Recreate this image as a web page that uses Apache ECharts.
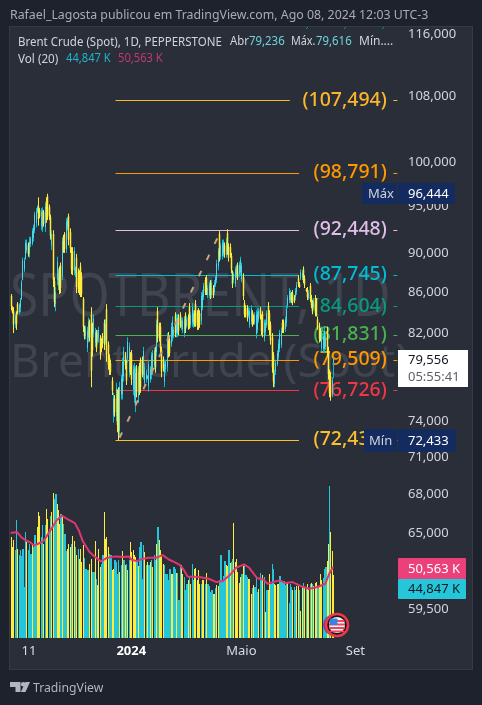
<!DOCTYPE html>
<html>
<head>
<meta charset="utf-8">
<style>html,body{margin:0;padding:0;background:#1e222d}#c{width:482px;height:705px}</style>
<script src="https://cdn.jsdelivr.net/npm/echarts@6/dist/echarts.min.js"></script>
</head>
<body>
<div id="c"></div>
<script>
const opens=[85.6,84.5,84.0,82.9,83.9,84.8,84.0,84.5,85.3,87.2,88.3,89.4,90.3,90.8,89.9,90.9,91.0,91.6,92.4,93.2,94.4,95.0,94.6,92.8,92.6,94.4,92.7,95.6,96.1,94.9,93.8,90.8,92.0,87.1,84.8,87.2,86.6,88.2,88.7,87.6,91.7,92.0,90.4,92.8,93.9,92.2,90.3,90.2,88.2,87.9,89.5,88.0,88.0,88.6,87.6,85.3,82.5,81.7,
80.6,81.5,82.9,83.8,82.6,82.0,81.1,82.0,81.2,81.5,81.5,81.2,81.7,83.0,81.3,84.3,80.9,79.7,79.2,77.6,74.5,76.0,74.5,76.4,76.6,73.2,76.3,76.4,78.0,79.9,79.2,79.6,78.3,79.9,80.1,76.8,76.1,75.4,78.7,76.1,78.9,79.4,79.5,78.1,77.4,77.7,77.8,77.1,77.7,78.1,78.5,79.0,80.4,80.2,84.1,82.7,82.6,80.4,79.5,77.5,78.6,78.8,81.8,81.3,81.0,81.6,81.8,83.7,82.0,
82.0,83.5,83.7,82.6,82.4,82.0,83.7,82.7,83.5,84.5,82.8,83.0,82.8,83.9,84.8,83.9,84.1,83.9,83.2,84.5,85.5,87.2,87.4,85.7,85.7,86.9,85.7,86.4,86.0,86.7,87.2,88.6,92.0,89.6,89.7,90.0,90.8,89.8,92.1,90.7,90.6,89.7,87.9,87.2,86.8,87.7,88.7,87.8,88.0,87.3,87.5,84.9,84.4,84.4,83.7,82.8,83.1,84.0,83.5,83.0,81.9,82.3,83.3,84.2,83.5,83.8,81.5,82.1,82.8,84.6,83.9,82.8,81.6,79.9,77.3,78.4,79.1,79.8,80.5,80.9,83.0,83.0,82.4,83.0,84.7,85.2,85.2,85.7,85.9,85.5,85.5,86.0,87.4,86.8,87.4,87.5,88.3,87.4,86.3,86.2,85.4,86.6,85.4,84.9,84.5,85.4,85.1,83.3,82.7,82.2,80.6,80.5,80.5,80.7,82.2,80.3,78.2,78.0,76.4,79.236];
const closes=[84.6,84.0,82.8,83.6,82.9,84.0,84.7,85.2,87.0,89.2,89.2,91.1,91.0,89.9,91.2,91.5,92.3,92.7,94.1,94.4,94.9,93.6,93.9,94.4,94.5,93.1,95.0,93.8,94.0,93.8,91.8,92.0,87.2,85.0,86.0,89.1,87.9,86.2,86.4,91.2,90.3,90.4,93.3,93.5,91.4,90.5,88.3,88.2,90.2,88.4,86.5,86.3,86.2,86.0,85.8,82.6,81.7,82.4,
82.2,83.1,81.6,78.5,80.4,83.4,82.1,80.6,82.0,82.3,80.0,80.5,81.0,81.0,82.9,80.0,79.0,78.5,78.4,76.7,76.0,74.8,76.9,73.7,73.0,77.0,77.8,79.3,80.3,79.0,77.6,81.2,80.7,78.5,77.7,78.6,78.8,78.3,76.6,78.4,76.8,77.0,78.2,80.3,78.8,78.3,78.0,79.1,78.6,79.9,80.1,80.3,78.8,82.9,81.6,81.5,80.6,78.4,78.7,79.1,79.3,81.6,80.1,80.1,82.6,83.2,82.3,82.0,83.4,
83.4,82.2,82.8,83.2,83.2,83.3,82.4,83.3,82.6,82.8,83.7,84.5,83.9,82.9,83.0,82.7,82.7,82.8,85.6,85.9,86.6,86.0,86.1,86.4,86.7,85.6,86.9,85.7,86.9,87.5,88.9,90.2,89.5,90.8,91.0,91.1,89.8,91.2,90.2,89.5,89.8,88.3,86.8,87.8,88.3,88.5,87.5,88.8,89.3,88.7,85.6,83.8,83.7,83.4,84.2,84.1,84.4,82.9,83.0,83.7,83.8,84.0,84.1,83.5,82.2,82.0,83.0,83.0,83.9,82.7,82.2,81.3,78.8,77.5,78.3,79.2,80.1,81.0,82.0,82.2,82.3,82.3,83.3,84.3,85.4,86.1,85.9,85.1,85.0,85.1,86.1,86.7,86.8,86.5,88.0,87.9,87.2,86.7,86.1,85.5,85.9,85.3,84.7,84.1,85.1,83.9,84.0,82.6,81.5,81.5,82.2,81.7,82.2,81.6,80.2,78.2,76.5,76.2,77.6,79.556];
const lows=[84.2,83.9,82.0,82.5,82.3,83.8,83.8,84.0,85.2,87.2,88.0,89.3,90.0,89.6,89.5,90.6,90.8,91.2,92.1,92.7,94.3,92.9,93.7,92.4,92.2,92.8,92.2,93.2,93.5,93.5,91.4,90.3,86.5,84.5,84.1,86.7,86.2,85.8,85.9,87.2,90.0,90.0,90.0,92.4,90.8,90.0,87.8,87.7,87.7,87.5,85.9,85.9,85.7,85.5,85.5,82.1,81.4,81.4,
80.2,81.1,81.2,77.0,79.8,81.6,80.7,80.2,80.9,81.1,79.5,80.2,80.6,80.4,80.9,79.3,78.6,78.1,78.1,76.3,73.9,74.4,74.0,73.1,72.4,72.7,75.9,75.9,77.5,78.6,77.2,79.2,77.9,78.1,77.2,76.3,75.6,74.8,76.1,75.6,76.3,76.5,77.9,77.7,77.0,77.4,77.7,76.6,77.4,77.7,78.1,78.6,78.3,79.8,81.1,81.2,80.1,77.9,78.4,77.0,78.3,78.4,79.7,79.8,80.7,81.2,81.5,81.6,81.6,
81.6,81.8,82.5,82.3,82.0,81.6,82.0,82.5,82.3,82.4,82.5,82.6,82.5,82.6,82.6,82.3,82.3,82.5,82.8,84.2,85.2,85.7,85.7,85.4,85.4,85.3,85.4,85.4,85.7,86.5,86.9,88.2,89.1,89.3,89.3,89.6,89.5,89.5,89.8,89.1,89.5,87.9,86.4,86.9,86.5,87.4,87.2,87.5,87.7,87.0,85.2,83.5,83.5,83.1,83.5,82.5,82.8,82.6,82.8,82.8,81.5,82.0,83.0,83.3,81.8,81.6,81.2,81.8,82.5,82.3,81.8,80.9,78.3,77.0,77.0,78.1,78.9,79.5,80.2,80.6,82.0,82.0,82.1,82.6,84.4,84.9,84.9,84.9,84.7,84.9,85.2,85.7,86.5,86.4,87.2,87.2,86.9,86.4,86.0,85.2,85.2,85.0,84.4,83.8,84.2,83.6,83.6,82.3,81.1,81.2,80.2,80.2,80.1,80.4,79.8,77.7,76.1,75.8,76.1,77.8];
const highs=[85.8,84.6,84.5,83.8,84.1,85.0,84.9,85.4,87.2,89.5,89.5,91.4,91.4,91.1,91.7,91.7,92.6,93.0,94.4,94.8,95.1,96.0,94.8,94.8,94.9,94.6,95.4,96.0,96.4,95.2,94.1,92.4,92.4,87.5,86.5,89.6,88.4,88.6,89.0,91.6,91.9,92.2,93.7,93.8,94.2,92.6,90.6,90.6,90.6,88.6,89.9,88.4,88.2,89.0,88.0,85.5,82.7,82.7,
82.6,83.5,83.3,84.5,83.0,83.8,82.5,82.3,82.3,82.6,81.8,81.5,82.0,83.3,83.3,84.8,81.2,80.0,79.5,77.9,76.5,76.3,77.4,76.8,77.0,77.5,78.1,79.7,80.7,80.2,79.5,81.6,81.1,80.2,80.4,79.0,79.2,78.9,79.0,78.9,79.2,79.7,79.8,80.7,79.2,78.6,78.1,79.5,78.9,80.2,80.4,80.6,80.7,83.3,84.5,83.0,83.0,80.7,79.8,79.5,79.5,82.0,82.1,81.6,83.0,83.6,82.6,84.0,83.8,
83.8,83.8,84.0,83.5,83.5,83.6,84.0,83.6,83.8,84.9,84.0,84.9,84.2,84.2,85.2,84.2,84.4,84.2,86.0,86.2,86.9,87.5,87.7,86.7,87.0,87.2,87.2,86.7,87.2,87.7,89.3,90.5,92.3,91.1,91.4,91.4,91.1,91.6,92.5,91.0,91.0,90.0,88.2,88.0,88.6,88.8,89.0,89.1,89.6,89.0,87.9,85.2,84.7,84.7,84.5,84.4,84.7,84.2,83.8,84.0,84.2,84.4,84.4,84.5,83.8,84.1,83.3,83.3,84.2,85.0,84.2,83.1,82.0,80.2,78.6,79.5,80.4,81.4,82.3,82.5,83.3,83.3,83.6,84.7,85.7,86.4,86.2,86.0,86.2,85.7,86.4,87.0,87.7,87.0,88.3,88.2,88.6,87.7,86.4,86.5,86.2,86.9,85.7,85.2,85.4,85.7,85.4,83.6,83.0,82.5,82.6,82.0,82.6,82.0,82.6,80.7,78.6,78.4,77.9,79.616];
const volumes=[71.8,64.7,69.9,62.3,84.1,63.5,58.8,62.3,58.1,63.5,36.3,75.4,68.7,62.3,67.1,59.5,67.1,64.7,73,65.9,78.9,89.6,87.2,71.8,80.1,67.1,80.8,91.5,84.8,77.7,87.2,89.6,103.3,99,102.6,95.5,90.8,81.3,88.4,87.2,81.3,74.2,61.6,63.5,67.1,64.7,66.6,72.5,69.4,64.7,58.8,63.5,56.4,63.5,54,65.9,57.1,49.3,48.6,48.6,52.9,55.9,46.9,46.9,69.4,42.2,37.4,63.5,50.5,52.9,58.8,90,70.6,71.8,64.7,59.5,58.8,48.1,49.3,55.2,54,45.7,55.2,46.9,51.7,61.9,55.2,51.7,52.9,48.6,55.2,68.7,61.1,62.3,58.8,57.6,55.2,51,64.7,68.3,42.2,65.9,61.1,51.7,54,51.7,54,55.2,50.5,58.8,55.2,66.6,78.9,69.9,62.3,58.8,52.9,51.7,45.3,45.7,41,49.3,45.7,45.7,
50.5,49.3,46.2,46.2,26.8,50.5,51.7,45.7,43.4,33.9,38.6,41,43.4,38.6,52.4,41,49.3,50,41,48.1,38.6,38.6,41,41,38.6,46.5,38.6,37,32.7,33.9,31.5,31,35.8,37.4,36.7,41,58.8,41,43.8,54.5,51.7,51,63,53.3,54,56.4,82.2,54,56.4,46.9,39.3,43.4,45.3,51,52.4,44.6,43.4,42.2,42.2,31,35.8,37.4,36.3,44.1,32.7,35.1,46.5,42.2,44.6,43.4,18.5,34.4,33.9,45.7,38.6,52.9,49.3,38.6,37.4,38.6,38.2,43.8,41,40.3,40.5,37.4,38.2,39.8,25.1,38.6,36.3,33.9,36.3,33.9,36.7,36.7,33.9,19.2,36.7,39.3,36.3,35.8,38.2,33.9,38.6,39.1,38.2,36.7,39.1,39.8,36.7,36.3,45.3,41,42.9,49.3,50.5,54.5,67.1,108.5,75.4,61.9,44.847];
const volumeSides="yyyccyccccccyccc"+"yccc"+"yyyccycyyccyyccyyycyccc"+"yyycyycycyyyyccccyycc"+"ycyyyccyyyyccy"+"yccccycycycyc"+"yyyyycyccccy"+"cycycyccycyyyyccccc"+"yyccyccc"+
"yyccc"+"ycyccyyyyycyycyccccyycyyccccc"+"yycyccyyyyyycycccyyycycccyccyc"+"ycyyccc"+"yyyycccccc"+"ycccyccyycyycyc"+"yycycyyycyyycccyycyyyyycc";
const maIndex=[0,5,8,11,15,18,21,25,27,31,35,39,43,49,52,55,60,64,69,73,80,86,90,92,96,101,105,111,116,121,125,129,132,135,144,151,157,162,167,172,178,182,188,193,196,205,210,215,222,228,234,240,243,246];
const maValues=[74.7,75.4,71.8,69.9,68,65.9,67.1,69,71.8,77.7,83.7,87.2,84.8,81.8,76.6,69,61.4,58.1,54.5,56.9,58.1,57.6,58.1,55.9,54.7,56.4,57.1,57.1,59,55.7,54,52.1,48.6,43.8,43.4,42.2,39.8,40.5,44.6,50,52.4,50,42.7,41.5,38.6,41,39.1,39.8,36.7,35.1,36.3,38.6,45.7,50.563];
const fibValues=[107.494,98.791,92.448,87.745,84.604,81.831,79.509,76.726,72.433];
const fibTexts=["(107,494)","(98,791)","(92,448)","(87,745)","(84,604)","(81,831)","(79,509)","(76,726)","(72,433)"];
const fibColors=["#fbb62c","#ff9800","#e1bee7","#00bcd4","#089981","#4caf50","#ff9800","#f23645","#fbc02d"];
const priceTicks=[116,108,100,95,90,86,82,74,71,68,65,59.5];
const timeTickIndex=[14,92,176,263];
const timeTickLabels=["11","2024","Maio","Set"];
const trendFrom=[83,72.6];
const trendTo=[160,92.2];

const FONT='"Noto Sans"';
const BAR_SLOTS=296;
const categories=[];for(let i=0;i<BAR_SLOTS;i++)categories.push(String(i));
const fmt=v=>v.toFixed(3).replace('.',',');
const YEL='#ffeb3b',CY='#00bcd4',CYL='#4ed6e8',VCY='#26c6da';

function txt(text,x,y,fill,size,o){o=o||{};return{type:'text',x:x,y:y,z:o.z==null?100:o.z,scaleX:o.sx||1,silent:true,
 style:{text:text,fill:fill,font:(o.w||'normal')+' '+size+'px '+FONT,align:o.a||'left',verticalAlign:'middle'}};}
function rect(x,y,w,h,fill,z,r){return{type:'rect',z:z==null?100:z,silent:true,shape:{x:x,y:y,width:w,height:h,r:r||0},style:{fill:fill}};}
function circ(cx,cy,r,fill,stroke,lw){return{type:'circle',z:100,silent:true,shape:{cx:cx,cy:cy,r:r},style:{fill:fill,stroke:stroke||null,lineWidth:lw||0}};}

const chrome=[
 rect(9,26,464,644,'#363a45',-3),
 rect(10,27,462,642,'#2a2e39',-2),
 txt("SPOTBRENT, 1D",10,299,'#40444f',60,{z:-1,sx:.86}),
 txt("Brent Crude (Spot)",10,364,'#40444f',46,{z:-1}),
 txt("Rafael_Lagosta publicou em TradingView.com, Ago 08, 2024 12:03 UTC-3",10,15,'#a9acb6',12.7,{sx:.973}),
 txt("Brent Crude (Spot), 1D, PEPPERSTONE",18,42,'#d1d4dc',12.3,{sx:.935}),
 txt("Abr",230,42,'#d1d4dc',12,{sx:.95}),txt("79,236",249,42,'#6fd3dc',12,{sx:.95}),
 txt("Máx.",291,42,'#d1d4dc',12,{sx:.9}),txt("79,616",316,42,'#6fd3dc',12,{sx:.95}),
 txt("Mín....",359,42,'#d1d4dc',12),
 txt("Vol (20)",18,59,'#d1d4dc',12.3,{sx:.95}),txt("44,847 K",66,59,'#1fb5cb',12,{sx:.93}),txt("50,563 K",118,59,'#c2386f',12,{sx:.93}),
 rect(362,183,35,21,'#132b5e',100,2),rect(398,183,57,21,'#132b5e',100,2),
 txt("Máx",368,194,'#d1d4dc',13),txt("96,444",408,194,'#ffffff',13),
 rect(364,429,33,23,'#132b5e',100,2),rect(398,429,58,23,'#132b5e',100,2),
 txt("Mín",369,441,'#d1d4dc',13),txt("72,433",408,441,'#ffffff',13),
 rect(398,350,70,37,'#ffffff'),
 txt("79,556",408,360,'#131722',13),txt("05:55:41",408,377,'#5d606b',13),
 rect(398,558,68,21,'#ec407a',100,1),rect(398,579,68,20,'#26c6da',100,1),
 txt("50,563 K",408,569,'#ffffff',13),txt("44,847 K",408,589,'#131722',13),
 circ(333.5,625,10.5,'#7b3fa0'),circ(337,625,11,'#131722','#f23645',2.5),
 circ(337,625,8,'#f4f4f4'),
 rect(329.5,620,15,2,'#f0485a'),rect(329,623.5,16,2,'#f0485a'),rect(329,627,16,2,'#f0485a'),rect(330,630.5,14,1.8,'#f0485a'),
 rect(330,618.5,7.5,6.5,'#3b82e8'),
 {type:'line',z:5,silent:true,shape:{x1:306,y1:29,x2:308,y2:27},style:{stroke:'#089981',lineWidth:1}},
 {type:'line',z:5,silent:true,shape:{x1:344,y1:29,x2:346,y2:27},style:{stroke:'#089981',lineWidth:1}},
 {type:'line',z:5,silent:true,shape:{x1:382,y1:29,x2:384,y2:27},style:{stroke:'#089981',lineWidth:1}},
 {type:'polygon',z:100,silent:true,shape:{points:[[10,682],[20.5,682],[20.5,692],[15.5,692],[15.5,687],[10,687]]},style:{fill:'#b2b5be'}},
 circ(23.2,684.3,2.3,'#b2b5be'),
 {type:'polygon',z:100,silent:true,shape:{points:[[25.5,682],[30,682],[25.5,692],[20.8,692]]},style:{fill:'#b2b5be'}},
 txt("TradingView",33,688,'#b2b5be',13,{sx:.94})
];

const fibLabelSeries=fibValues.map((v,i)=>({
 type:'scatter',xAxisIndex:0,yAxisIndex:0,z:1,symbolSize:0,silent:true,itemStyle:{opacity:1},
 data:[[287,v]],
 label:{show:true,position:'left',distance:0,opacity:1,formatter:fibTexts[i],color:fibColors[i],fontFamily:FONT,fontSize:19.5,fontWeight:500}
}));
const fibLineRows=[];
fibValues.forEach((v,i)=>{fibLineRows.push([80,i===0?213:220,v,i]);fibLineRows.push([292,295,v,i]);});

const candleRows=opens.map((o,i)=>[i,o,closes[i],lows[i],highs[i]]);
const volumeRows=volumes.map((v,i)=>[i,v,volumeSides[i]==='y'?1:0]);

const chart=echarts.init(document.getElementById('c'),null,{renderer:'canvas'});
chart.setOption({
 animation:false,backgroundColor:'#1e222d',graphic:{elements:chrome},
 grid:{left:10,right:84,top:26,height:612},
 xAxis:{type:'category',data:categories,boundaryGap:true,axisLine:{show:false},axisTick:{show:false},splitLine:{show:false},
  axisLabel:{margin:7,color:'#d9dbe2',fontFamily:FONT,fontSize:13,
   interval:(i)=>timeTickIndex.indexOf(i)>=0,
   formatter:(v)=>{const k=timeTickIndex.indexOf(+v);const t=timeTickLabels[k];return t==='2024'?'{b|2024}':(t||'');},
   rich:{b:{fontWeight:'bold',color:'#ffffff',fontFamily:FONT,fontSize:13}}}},
 yAxis:[
  {type:'log',logBase:Math.E,position:'right',min:57.538,max:117.143,axisLine:{show:false},axisTick:{show:false},splitLine:{show:false},minorTick:{show:false},
   axisLabel:{margin:10,color:'#d1d4dc',fontFamily:FONT,fontSize:13,customValues:priceTicks,formatter:(v)=>fmt(+v),showMinLabel:true,showMaxLabel:true}},
  {type:'value',min:0,max:435.7,show:false,splitLine:{show:false}}
 ],
 series:[
  ...fibLabelSeries,
  {type:'custom',yAxisIndex:0,z:1,silent:true,clip:false,encode:{x:[0,1],y:2},data:fibLineRows,
   renderItem:(p,api)=>{
    const a=api.coord([api.value(0),api.value(2)]),b=api.coord([api.value(1),api.value(2)]);
    const y=Math.round(a[1])+.5;
    return{type:'line',shape:{x1:a[0],y1:y,x2:b[0],y2:y},style:{stroke:fibColors[api.value(3)],lineWidth:1}};
   }},
  {type:'custom',yAxisIndex:1,z:2,silent:true,encode:{x:0,y:1},data:volumeRows,
   renderItem:(p,api)=>{
    const i=api.value(0),v=api.value(1),yellow=api.value(2);
    const a=api.coord([i,v]),b=api.coord([i,0]),n=api.coord([i+1,0]);
    const x0=Math.round(a[0]),x1=Math.max(x0+1,Math.round(n[0]));
    return{type:'rect',shape:{x:x0,y:Math.round(a[1]),width:yellow?1:x1-x0,height:Math.round(b[1])-Math.round(a[1])},
     style:{fill:yellow?YEL:VCY}};
   }},
  {type:'line',yAxisIndex:1,z:3,silent:true,symbol:'none',lineStyle:{color:'#e0366f',width:2},
   data:maIndex.map((k,i)=>[k,maValues[i]])},
  {type:'line',yAxisIndex:0,z:3,silent:true,symbol:'none',data:[],
   markLine:{silent:true,symbol:'none',animation:false,label:{show:false},
    lineStyle:{color:'#c9a27e',width:2,type:[6,12],opacity:1},
    data:[[{coord:trendFrom},{coord:trendTo}]]}},
  {type:'custom',yAxisIndex:0,z:4,silent:true,clip:true,
   encode:{x:0,y:[1,2,3,4]},data:candleRows,
   renderItem:(p,api)=>{
    const i=api.value(0),o=api.value(1),c=api.value(2),l=api.value(3),h=api.value(4);
    const x=Math.round(api.coord([i,o])[0])+.5;
    const up=c>=o,wick=up?CY:YEL,body=up?CYL:YEL;
    const yh=api.coord([i,h])[1],yl=api.coord([i,l])[1],yo=api.coord([i,o])[1],yc=api.coord([i,c])[1];
    return{type:'group',children:[
     {type:'line',shape:{x1:x,y1:yh,x2:x,y2:yl},style:{stroke:wick,lineWidth:1}},
     {type:'line',shape:{x1:x,y1:yo,x2:x,y2:yc},style:{stroke:body,lineWidth:up?1:1.5}}
    ]};
   }}
 ]
});
</script>
</body>
</html>
